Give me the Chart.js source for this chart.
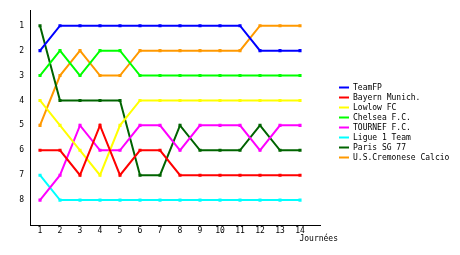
<!DOCTYPE html>
<html lang="fr">
<head>
    <meta charset="UTF-8">
    <title>Classement par journée</title>
    <script src="https://cdn.jsdelivr.net/npm/chart.js"></script>
    <style>
        body { margin: 0; background: #fff; }
        #classement { display: block; }
    </style>
</head>
<body>
    <canvas id="classement" width="460" height="255"></canvas>

    <script>
        // journées et classements
        const journees = [1, 2, 3, 4, 5, 6, 7, 8, 9, 10, 11, 12, 13, 14];
        const rangs = [1, 2, 3, 4, 5, 6, 7, 8];

        const equipes = ['TeamFP', 'Bayern Munich.', 'Lowlow FC', 'Chelsea F.C.', 'TOURNEF F.C.', 'Ligue 1 Team', 'Paris SG 77', 'U.S.Cremonese Calcio'];
        const couleurs = ['#0000ff', '#ff0000', '#ffff00', '#00ff00', '#ff00ff', '#00ffff', '#006400', '#ff9900'];

        const teamFP    = [2, 1, 1, 1, 1, 1, 1, 1, 1, 1, 1, 2, 2, 2];
        const bayern    = [6, 6, 7, 5, 7, 6, 6, 7, 7, 7, 7, 7, 7, 7];
        const lowlow    = [4, 5, 6, 7, 5, 4, 4, 4, 4, 4, 4, 4, 4, 4];
        const chelsea   = [3, 2, 3, 2, 2, 3, 3, 3, 3, 3, 3, 3, 3, 3];
        const tournef   = [8, 7, 5, 6, 6, 5, 5, 6, 5, 5, 5, 6, 5, 5];
        const ligue1    = [7, 8, 8, 8, 8, 8, 8, 8, 8, 8, 8, 8, 8, 8];
        const parisSG   = [1, 4, 4, 4, 4, 7, 7, 5, 6, 6, 6, 5, 6, 6];
        const cremonese = [5, 3, 2, 3, 3, 2, 2, 2, 2, 2, 2, 1, 1, 1];

        const series = [teamFP, bayern, lowlow, chelsea, tournef, ligue1, parisSG, cremonese];

        Chart.defaults.font.family = '"DejaVu Sans Mono", monospace';
        Chart.defaults.font.size = 8;
        Chart.defaults.color = '#000';

        // légende décalée à droite de l'axe, titre de l'axe X poussé vers la droite
        const decalage = {
            id: 'decalage',
            beforeInit(chart) {
                const fit = chart.legend.fit;
                chart.legend.fit = function () {
                    fit.call(this);
                    this.width += 25;
                };
            },
            afterLayout(chart) {
                const legend = chart.legend;
                legend.left += 17;
                legend.top -= 10;
                legend.bottom -= 10;
                const sx = chart.scales.x;
                if (!sx._titrePatch) {
                    const drawTitle = sx.drawTitle;
                    sx.drawTitle = function () {
                        this.ctx.save();
                        this.ctx.translate(18, 0);
                        drawTitle.call(this);
                        this.ctx.restore();
                    };
                    sx._titrePatch = true;
                }
            }
        };

        const ctx = document.getElementById('classement').getContext('2d');
        new Chart(ctx, {
            type: 'line',
            data: {
                labels: journees,
                datasets: equipes.map((nom, i) => ({
                    label: nom,
                    data: series[i],
                    borderColor: couleurs[i],
                    backgroundColor: couleurs[i],
                    borderWidth: 2,
                    pointStyle: 'rect',
                    pointRadius: 2.2,
                    pointBorderWidth: 0,
                    pointBackgroundColor: couleurs[i],
                    tension: 0,
                    fill: false
                }))
            },
            options: {
                responsive: false,
                animation: false,
                layout: { padding: { top: 10, left: 0, right: 0, bottom: 0 } },
                plugins: {
                    tooltip: { enabled: false },
                    legend: {
                        position: 'right',
                        labels: {
                            boxWidth: 10,
                            boxHeight: 2,
                            padding: 2,
                            color: '#000',
                            font: { size: 8 },
                            generateLabels(chart) {
                                return Chart.defaults.plugins.legend.labels.generateLabels(chart)
                                    .map(l => ({ ...l, lineWidth: 0 }));
                            }
                        }
                    }
                },
                scales: {
                    x: {
                        type: 'linear',
                        min: 0.5,
                        max: 15,
                        afterBuildTicks(scale) {
                            scale.ticks = journees.map(v => ({ value: v }));
                        },
                        afterFit(scale) { scale.height = 30; },
                        grid: { display: false, drawTicks: false },
                        border: { display: true, color: '#000', width: 1 },
                        ticks: { padding: 1, autoSkip: false, maxRotation: 0, font: { size: 8 } },
                        title: {
                            display: true,
                            text: 'Journées',
                            align: 'end',
                            font: { size: 8, lineHeight: 1.2 },
                            padding: { top: 2, bottom: 11 }
                        }
                    },
                    y: {
                        type: 'linear',
                        reverse: true,
                        min: 0.4,
                        max: 9,
                        afterBuildTicks(scale) {
                            scale.ticks = rangs.map(v => ({ value: v }));
                        },
                        afterFit(scale) { scale.width = 30; },
                        grid: { display: false, drawTicks: false },
                        border: { display: true, color: '#000', width: 1 },
                        ticks: { padding: 6, font: { size: 8 } }
                    }
                }
            },
            plugins: [decalage]
        });
    </script>
</body>
</html>
